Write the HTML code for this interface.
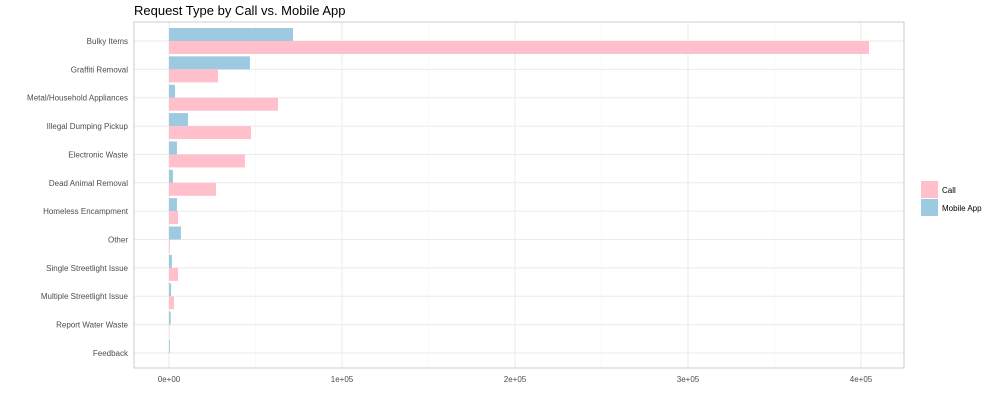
<!DOCTYPE html>
<html><head><meta charset="utf-8"><style>
body{margin:0;background:#fff;font-family:"Liberation Sans",sans-serif}
svg text{font-family:"Liberation Sans",sans-serif}
</style></head><body>
<svg id="c" width="996" height="400"></svg>
<script>
const categories=["Bulky Items","Graffiti Removal","Metal/Household Appliances","Illegal Dumping Pickup","Electronic Waste","Dead Animal Removal","Homeless Encampment","Other","Single Streetlight Issue","Multiple Streetlight Issue","Report Water Waste","Feedback"];
const callValues=[404600,28300,63000,47400,43900,27200,5200,500,5200,2900,200,0];
const mobileValues=[71700,46800,3500,11000,4600,2300,4600,6900,1700,1200,1000,500];
const xTicks=[0,100000,200000,300000,400000];
const xTickLabels=["0e+00","1e+05","2e+05","3e+05","4e+05"];
const NS="http://www.w3.org/2000/svg";
const svg=document.getElementById('c');
const L=134,R=904,T=22,B=368;
const x=v=>169+v*173/100000;
const y=i=>41+i*28.36;
function mk(t,a){const e=document.createElementNS(NS,t);for(const k in a)e.setAttribute(k,a[k]);svg.appendChild(e);return e;}
const title=mk('text',{x:134,y:15,'font-size':13,fill:'#000'});title.textContent="Request Type by Call vs. Mobile App";


xTicks.forEach((v,i)=>{
 const g=mk('line',{x1:x(v),x2:x(v),y1:T,y2:B,stroke:'#ebebeb','stroke-width':1});
 
 
 if(i<xTicks.length-1){const m=mk('line',{x1:x(v+50000),x2:x(v+50000),y1:T,y2:B,stroke:'#f4f4f4','stroke-width':0.6});
 
 }
 const t=mk('text',{x:x(v),y:382,'font-size':8,fill:'#4d4d4d','text-anchor':'middle'});t.textContent=xTickLabels[i];
 
 
});
categories.forEach((c,i)=>{
 const g=mk('line',{x1:L,x2:R,y1:y(i),y2:y(i),stroke:'#ebebeb','stroke-width':1});
 
 
 const t=mk('text',{x:128,y:y(i)+3,'font-size':8,fill:'#4d4d4d','text-anchor':'end'});t.textContent=c;
 
 
 const bh=13;
 if(mobileValues[i]>0){const m=mk('rect',{x:x(0),y:y(i)-bh,width:x(mobileValues[i])-x(0),height:bh,fill:'#9ecae1'});
 
 }
 if(callValues[i]>0){const b=mk('rect',{x:x(0),y:y(i),width:x(callValues[i])-x(0),height:bh,fill:'#ffc0cb'});
 
 }
});
const fr=mk('rect',{x:L,y:T,width:R-L,height:B-T,fill:'none',stroke:'#cccccc','stroke-width':1});


const leg=[["Call","#ffc0cb",181],["Mobile App","#9ecae1",199]];
leg.forEach(l=>{
 const r=mk('rect',{x:921,y:l[2],width:17,height:17,fill:l[1]});
 
 
 const t=mk('text',{x:942,y:l[2]+12,'font-size':8,fill:'#000'});t.textContent=l[0];
 
 
});
</script>
</body></html>
